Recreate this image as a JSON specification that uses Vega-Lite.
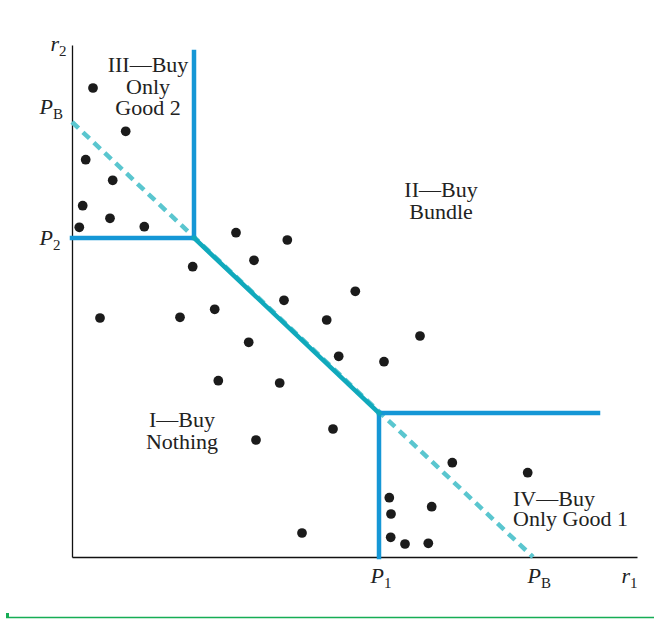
{
  "$schema": "https://vega.github.io/schema/vega-lite/v6.json",
  "width": 565,
  "height": 512,
  "autosize": {"type": "none"},
  "padding": {"left": 72, "top": 45, "right": 17, "bottom": 62},
  "background": "white",
  "config": {
    "view": {"stroke": null},
    "axis": {"domainColor": "#111111", "domainWidth": 1.3, "ticks": false, "labels": false, "grid": false, "title": null}
  },
  "datasets": {
    "points": [
      {"x": 21, "y": 469}, {"x": 53.7, "y": 425.7}, {"x": 13.7, "y": 397.3}, {"x": 40.7, "y": 376.7},
      {"x": 10.7, "y": 351.3}, {"x": 38, "y": 338.7}, {"x": 7.3, "y": 329.7}, {"x": 72.3, "y": 330.3},
      {"x": 164, "y": 324.3}, {"x": 215.3, "y": 317}, {"x": 182, "y": 296.7}, {"x": 120.7, "y": 290.3},
      {"x": 283.3, "y": 265.7}, {"x": 212, "y": 256.7}, {"x": 142.7, "y": 247.7}, {"x": 108, "y": 239.7},
      {"x": 28, "y": 239}, {"x": 254.7, "y": 237}, {"x": 348, "y": 221}, {"x": 176.7, "y": 214.7},
      {"x": 266.7, "y": 200.7}, {"x": 312, "y": 195.3}, {"x": 146.3, "y": 176.3}, {"x": 207.7, "y": 174},
      {"x": 261, "y": 128}, {"x": 184, "y": 117}, {"x": 380.3, "y": 94.3}, {"x": 455.7, "y": 84.3},
      {"x": 317.3, "y": 59.3}, {"x": 359.7, "y": 50.3}, {"x": 319, "y": 43}, {"x": 318.7, "y": 19.7},
      {"x": 333, "y": 13}, {"x": 356.3, "y": 13.7}, {"x": 230, "y": 24}
    ],
    "segments": [
      {"x": 122, "y": 505, "x2": 122, "y2": 319, "seg": "border"},
      {"x": 0, "y": 319, "x2": 122, "y2": 319, "seg": "border"},
      {"x": 307, "y": 144, "x2": 526, "y2": 144, "seg": "border"},
      {"x": 307, "y": 144, "x2": 307, "y2": 0, "seg": "border"},
      {"x": 122, "y": 319, "x2": 307, "y2": 144, "seg": "diag"}
    ],
    "bundle": [
      {"x": 0, "y": 435, "x2": 461, "y2": 0, "seg": "bundle"}
    ],
    "regions": [
      {"x": 76, "y": 485, "label": ["III—Buy", "Only", "Good 2"], "anchor": "center"},
      {"x": 369, "y": 360, "label": ["II—Buy", "Bundle"], "anchor": "center"},
      {"x": 110, "y": 130, "label": ["I—Buy", "Nothing"], "anchor": "center"},
      {"x": 441, "y": 51, "label": ["IV—Buy", "Only Good 1"], "anchor": "left"}
    ],
    "axislabels": [
      {"x": -13, "y": 506, "main": "r", "sub": "2"},
      {"x": -19, "y": 443, "main": "P", "sub": "B"},
      {"x": -19, "y": 312, "main": "P", "sub": "2"},
      {"x": 312, "y": -26, "main": "P", "sub": "1"},
      {"x": 469, "y": -26, "main": "P", "sub": "B"},
      {"x": 558, "y": -26, "main": "r", "sub": "1"}
    ],
    "footer": [
      {"x": -66, "y": -60.5, "x2": 582, "y2": -60.5, "part": "line"},
      {"x": -64.5, "y": -56, "x2": -64.5, "y2": -60.5, "part": "tick"}
    ]
  },
  "encoding": {
    "x": {"field": "x", "type": "quantitative", "scale": {"domain": [0, 565], "nice": false, "zero": false}, "axis": {"domain": true}},
    "y": {"field": "y", "type": "quantitative", "scale": {"domain": [0, 512], "nice": false, "zero": false}, "axis": {"domain": true}}
  },
  "layer": [
    {
      "data": {"name": "bundle"},
      "mark": {"type": "rule", "strokeWidth": 4.5, "strokeDash": [9, 6], "color": "#5ac6cf"},
      "encoding": {"x2": {"field": "x2"}, "y2": {"field": "y2"}}
    },
    {
      "data": {"name": "segments"},
      "mark": {"type": "rule", "strokeWidth": 4.5, "strokeCap": "square"},
      "encoding": {
        "x2": {"field": "x2"},
        "y2": {"field": "y2"},
        "color": {"field": "seg", "type": "nominal", "scale": {"domain": ["border", "diag"], "range": ["#1597d6", "#10a9bc"]}, "legend": null}
      }
    },
    {
      "data": {"name": "points"},
      "mark": {"type": "circle", "size": 95, "color": "#1b1b1b", "opacity": 1}
    },
    {
      "data": {"name": "regions"},
      "transform": [{"filter": "datum.anchor === 'center'"}],
      "mark": {"type": "text", "align": "center", "baseline": "alphabetic", "font": "Liberation Serif", "fontSize": 22, "lineHeight": 21.5, "color": "#222222"},
      "encoding": {"text": {"field": "label"}}
    },
    {
      "data": {"name": "regions"},
      "transform": [{"filter": "datum.anchor === 'left'"}],
      "mark": {"type": "text", "align": "left", "baseline": "alphabetic", "font": "Liberation Serif", "fontSize": 22, "lineHeight": 20, "color": "#222222"},
      "encoding": {"text": {"field": "label"}}
    },
    {
      "data": {"name": "axislabels"},
      "mark": {"type": "text", "align": "right", "baseline": "alphabetic", "font": "Liberation Serif", "fontStyle": "italic", "fontSize": 22, "color": "#222222"},
      "encoding": {"text": {"field": "main"}}
    },
    {
      "data": {"name": "axislabels"},
      "mark": {"type": "text", "align": "left", "baseline": "alphabetic", "dy": 5, "font": "Liberation Serif", "fontSize": 15, "color": "#222222"},
      "encoding": {"text": {"field": "sub"}}
    },
    {
      "data": {"name": "footer"},
      "mark": {"type": "rule", "color": "#16ad55"},
      "encoding": {
        "x2": {"field": "x2"},
        "y2": {"field": "y2"},
        "strokeWidth": {"field": "part", "type": "nominal", "scale": {"domain": ["line", "tick"], "range": [1.5, 3]}, "legend": null}
      }
    }
  ]
}
